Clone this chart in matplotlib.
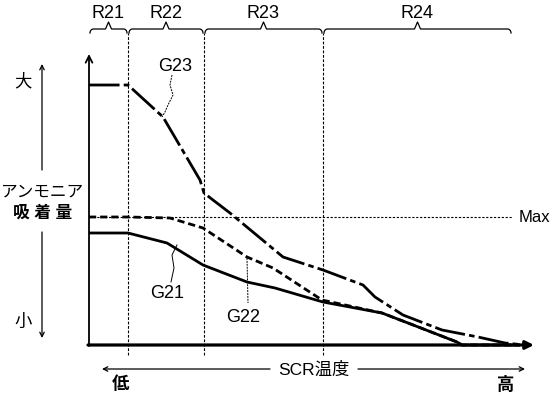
import matplotlib
matplotlib.use("Agg")
import matplotlib.pyplot as plt
import numpy as np

plt.rcParams['font.family'] = ['Liberation Sans', 'Noto Sans CJK JP', 'DejaVu Sans']

# ---- data (x: SCR temperature, y: ammonia adsorption, arbitrary units) ----
region_edges = [0, 39, 115, 234, 423]
region_labels = ["R21", "R22", "R23", "R24"]
max_level = 128

g21_x = [0, 39, 78, 114, 158, 186, 234, 293, 319, 368, 373, 431]
g21_y = [112, 112, 102, 80, 63, 57, 43, 32, 22, 3, 0, 0]

g22_x = [0, 39, 81, 114, 158, 184, 233, 293, 319, 368, 373, 431]
g22_y = [128, 128, 127, 117, 88, 77, 45, 32, 22, 3, 0, 0]

g23_x = [0, 39, 74, 111, 115, 124, 141, 194, 234, 274, 286, 314, 353, 389, 416, 436]
g23_y = [260, 260, 228, 165, 152, 145, 132, 88, 75, 60, 48, 30, 15, 8, 2, 0]

fig = plt.figure(figsize=(5.51, 3.94), dpi=100)
ax = fig.add_axes([0, 0, 1, 1])
ax.set_xlim(-89, 462)
ax.set_ylim(-49, 345)
ax.axis('off')

k = 'black'
# curves
ax.plot(g21_x, g21_y, color=k, lw=2.0, solid_capstyle='butt')
ax.plot(g22_x, g22_y, color=k, lw=2.0, linestyle=(0, (2.6, 1.4)))
ax.plot(g23_x, g23_y, color=k, lw=2.0, linestyle=(0, (11, 1.5, 2.0, 1.5)))

# Max line
ax.plot([0, region_edges[-1]], [max_level, max_level], color=k, lw=0.8,
        linestyle=(0, (2, 1.5)))
ax.text(region_edges[-1] + 7, max_level, "Max", ha='left', va='center', fontsize=12)

# region boundaries
for xb in region_edges[1:4]:
    ax.plot([xb, xb], [-10, 312], color=k, lw=0.8, linestyle=(0, (2.5, 1.5)))

# braces
def brace(x0, x1, yb=312, yl=316, yt=323):
    xm = (x0 + x1) / 2
    t = np.linspace(0, np.pi / 2, 8)
    r = 3.5
    xs = list(x0 + r - r * np.cos(t))
    ys = list(yb + (yl - yb) * np.sin(t))
    xs += [xm - 3, xm, xm + 3]
    ys += [yl, yt, yl]
    xs += list(x1 - r + r * np.cos(t[::-1]))
    ys += list(yb + (yl - yb) * np.sin(t[::-1]))
    ax.plot(xs, ys, color=k, lw=0.9)
    return xm

for i, lab in enumerate(region_labels):
    xm = brace(region_edges[i] + 1, region_edges[i + 1] - 1)
    ax.text(xm, 332, lab, ha='center', va='center', fontsize=13)

# axes arrows
ax.annotate('', xy=(0, 291), xytext=(0, -1),
            arrowprops=dict(arrowstyle='->', lw=1.3, color=k, mutation_scale=12,
                            shrinkA=0, shrinkB=0))
ax.annotate('', xy=(445, 0), xytext=(-1, 0),
            arrowprops=dict(arrowstyle='-|>', lw=2.3, color=k, mutation_scale=12,
                            shrinkA=0, shrinkB=0))

# y-axis side annotation
ax.annotate('', xy=(-47, 281), xytext=(-47, 175),
            arrowprops=dict(arrowstyle='->', lw=0.9, color=k, mutation_scale=8,
                            shrinkA=0, shrinkB=0))
ax.annotate('', xy=(-47, 7), xytext=(-47, 113),
            arrowprops=dict(arrowstyle='->', lw=0.9, color=k, mutation_scale=8,
                            shrinkA=0, shrinkB=0))
ax.text(-66, 264, "大", ha='center', va='center', fontsize=12.5)
ax.text(-47, 153, "アンモニア", ha='center', va='center', fontsize=12)
ax.text(-46, 132, "吸 着 量", ha='center', va='center', fontsize=12, fontweight='bold')
ax.text(-66, 23, "小", ha='center', va='center', fontsize=12.5)

# x-axis side annotation
ax.annotate('', xy=(13, -24), xytext=(181, -24),
            arrowprops=dict(arrowstyle='->', lw=0.9, color=k, mutation_scale=8,
                            shrinkA=0, shrinkB=0))
ax.annotate('', xy=(436, -24), xytext=(269, -24),
            arrowprops=dict(arrowstyle='->', lw=0.9, color=k, mutation_scale=8,
                            shrinkA=0, shrinkB=0))
ax.text(225, -25, "SCR温度", ha='center', va='center', fontsize=12.5)
ax.text(31, -39, "低", ha='center', va='center', fontsize=12.5, fontweight='bold')
ax.text(417, -39, "高", ha='center', va='center', fontsize=12.5, fontweight='bold')

# curve labels with leaders
ax.text(86, 279, "G23", ha='center', va='center', fontsize=13)
ax.plot([83, 81, 84, 79, 76, 73], [270, 260, 250, 240, 233, 228], color=k, lw=0.7,
        linestyle=(0, (2, 1)))
ax.text(78, 51, "G21", ha='center', va='center', fontsize=13)
ax.plot([88, 83, 85, 82], [100, 90, 77, 63], color=k, lw=0.7)
ax.text(154, 28, "G22", ha='center', va='center', fontsize=13)
ax.plot([158, 159], [87, 42], color=k, lw=0.7, linestyle=(0, (2, 1)))

fig.savefig("out.png", dpi=100, facecolor='white')
